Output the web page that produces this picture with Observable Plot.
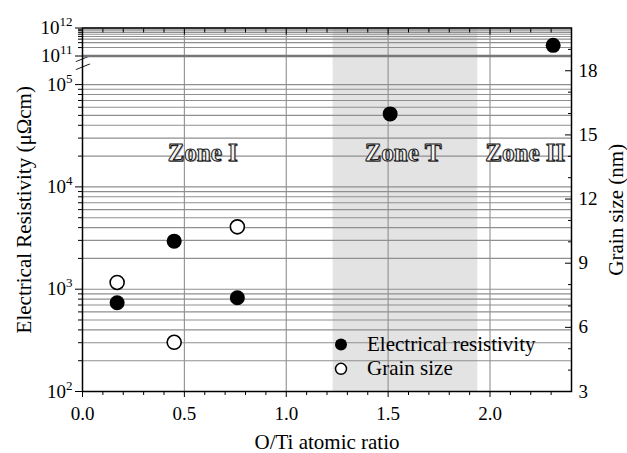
<!DOCTYPE html>
<html><head><meta charset="utf-8">
<script src="https://cdn.jsdelivr.net/npm/d3@7"></script>
<script src="https://cdn.jsdelivr.net/npm/@observablehq/plot@0.6"></script>
<style>
body{margin:0;background:#fff;}
#chart{position:relative;width:627px;height:453px;}
#chart svg{position:absolute;left:0;top:0;}
</style></head><body><div id="chart"></div>
<script>
// ---- data ----
const resX = [0.17, 0.45, 0.76, 1.51];
const resY = [736, 2950, 824, 51700];
const resTopX = [2.31];
const resTopY = [2.4e11];
const grainX = [0.17, 0.45, 0.76];
const grainY = [8.1, 5.3, 10.7];
const zoneT = [1.23, 1.94];
const zoneNames = ["Zone I", "Zone T", "Zone II"];
const zoneX = [0.59, 1.573, 2.173];
const zoneY = [2.15e4, 2.15e4, 2.15e4];
const legendLabels = ["Electrical resistivity", "Grain size"];
const xMajor = [0, 0.5, 1.0, 1.5, 2.0];
const xMinor = [0.1,0.2,0.3,0.4,0.6,0.7,0.8,0.9,1.1,1.2,1.3,1.4,1.6,1.7,1.8,1.9,2.1,2.2,2.3];
const xGrid = [0.5, 1.0, 1.5, 2.0];
const lowDecades = [1e2, 1e3, 1e4, 1e5];
const topDecades = [1e11, 1e12];
const grainMajor = [3, 6, 9, 12, 15, 18];
const grainMinor = [4,5,7,8,10,11,13,14,16,17,19];
const xLabel = "O/Ti atomic ratio";
const yLabel = "Electrical Resistivity (μΩcm)";
const y2Label = "Grain size (nm)";

// ---- derived ----
const lowTop = 1.84e5;
const mult = [1,2,3,4,5,6,7,8,9];
const lowGrid = lowDecades.flatMap(d => mult.map(m => m * d)).filter(v => v <= lowTop);
const lowMinor = lowGrid.filter(v => !lowDecades.includes(v));
const topGrid = mult.map(m => m * 1e11).concat([1e12]);
const topMinor = mult.slice(1).map(m => m * 1e11);
const resData = resX.map((x, i) => ({x, y: resY[i]}));
const resTop = resTopX.map((x, i) => ({x, y: resTopY[i]}));
const grain = grainX.map((x, i) => ({x, y: grainY[i]}));
const zones = zoneNames.map((t, i) => ({t, x: zoneX[i], y: zoneY[i]}));
const expFmt = d => "10^" + Math.round(Math.log10(d));

const W = 627, H = 453;
const font = "'Liberation Serif', 'Times New Roman', serif";
const common = {
  width: W, height: H, marginLeft: 82, marginRight: 56,
  x: {domain: [0, 2.4], axis: null},
  style: {fontFamily: font, fontSize: "19px", background: "transparent", color: "black", overflow: "visible"}
};
const gridStyle = {stroke: "#8f8f8f", strokeWidth: 1.1};

// bottom panel (10^2 .. ~2x10^5)
const plotB = Plot.plot({
  ...common, marginTop: 57, marginBottom: 62,
  y: {type: "log", domain: [100, lowTop], axis: null},
  marks: [
    Plot.rect([zoneT], {x1: d => d[0], x2: d => d[1], fill: "#e3e3e3"}),
    Plot.ruleY(lowGrid, gridStyle),
    Plot.ruleX(xGrid, gridStyle),
    Plot.axisY(lowMinor, {anchor: "left", tickSize: 4, fill: "none", label: null}),
    Plot.axisY(lowDecades, {anchor: "left", tickSize: 7, tickPadding: 3, tickFormat: expFmt, label: null}),
    Plot.text(zones, {x: "x", y: "y", text: "t", fontSize: 25, fontWeight: "bold", fill: "#999", dx: 1, dy: 1}),
    Plot.text(zones, {x: "x", y: "y", text: "t", fontSize: 25, fontWeight: "bold", fill: "#f4f4f4", stroke: "#111", strokeWidth: 1, paintOrder: "normal"}),
    Plot.dot(resData, {x: "x", y: "y", r: 7.5, fill: "black"}),
    Plot.text(["—"], {frameAnchor: "top-left", dx: 0, dy: 0, rotate: -22, fontSize: 15, fill: "black", textAnchor: "middle", lineAnchor: "middle"}),
    Plot.text(["—"], {frameAnchor: "top-left", dx: 0, dy: 8, rotate: -22, fontSize: 15, fill: "black", textAnchor: "middle", lineAnchor: "middle"})
  ]
});

// top panel (10^11 .. 10^12)
const plotT = Plot.plot({
  ...common, marginTop: 27.5, marginBottom: H - 55.5,
  y: {type: "log", domain: [1e11, 1e12], axis: null},
  marks: [
    Plot.rect([zoneT], {x1: d => d[0], x2: d => d[1], fill: "#e3e3e3"}),
    Plot.ruleY(topGrid, gridStyle),
    Plot.ruleX(xGrid, gridStyle),
    Plot.ruleY([1e11], {stroke: "#777", strokeWidth: 2.5}),
    Plot.axisY(topMinor, {anchor: "left", tickSize: 4, fill: "none", label: null}),
    Plot.axisY(topDecades, {anchor: "left", tickSize: 7, tickPadding: 3, tickFormat: expFmt, label: null}),
    Plot.dot(resTop, {x: "x", y: "y", r: 7.5, fill: "black"})
  ]
});

// overlay: grain size, frame, x axis, right axis, labels, legend
const lbl = {fill: "black", textAnchor: "middle", lineAnchor: "middle"};
const plotG = Plot.plot({
  ...common, marginTop: 27.5, marginBottom: 62,
  y: {domain: [3, 20], axis: null},
  marks: [
    Plot.dot(grain, {x: "x", y: "y", r: 7, fill: "white", stroke: "black", strokeWidth: 1.6}),
    Plot.frame({stroke: "black", strokeWidth: 1.5}),
    Plot.axisX(xMinor, {anchor: "bottom", tickSize: 4, fill: "none", label: null}),
    Plot.axisX(xMajor, {anchor: "bottom", tickSize: 6, tickPadding: 9, tickFormat: d3.format(".1f"), label: null}),
    Plot.axisX(xMinor, {anchor: "top", tickSize: -4, fill: "none", label: null}),
    Plot.axisX(xMajor, {anchor: "top", tickSize: -6, fill: "none", label: null}),
    Plot.axisY(grainMinor, {anchor: "right", tickSize: -4, fill: "none", label: null}),
    Plot.axisY(grainMajor, {anchor: "right", tickSize: -7, fill: "none", label: null}),
    Plot.axisY(grainMajor, {anchor: "right", tickSize: 0, tickPadding: 7, label: null}),
    Plot.text([yLabel], {...lbl, frameAnchor: "left", dx: -58, rotate: -90, fontSize: 21}),
    Plot.text([y2Label], {...lbl, frameAnchor: "right", dx: 44.5, rotate: -90, fontSize: 21}),
    Plot.text([xLabel], {...lbl, frameAnchor: "bottom", dy: 51, fontSize: 21}),
    Plot.dot([legendLabels[0]], {frameAnchor: "bottom-left", dx: 258.5, dy: -47, r: 6, fill: "black"}),
    Plot.dot([legendLabels[1]], {frameAnchor: "bottom-left", dx: 258.5, dy: -22.7, r: 5.5, fill: "white", stroke: "black", strokeWidth: 1.5}),
    Plot.text([legendLabels[0]], {frameAnchor: "bottom-left", dx: 284.5, dy: -47, textAnchor: "start", lineAnchor: "middle", fontSize: 21, fill: "black"}),
    Plot.text([legendLabels[1]], {frameAnchor: "bottom-left", dx: 284.5, dy: -23, textAnchor: "start", lineAnchor: "middle", fontSize: 21, fill: "black"})
  ]
});

const ns = "http://www.w3.org/2000/svg";
function supify(svg) {
  svg.querySelectorAll("text").forEach(t => {
    const m = t.textContent.match(/^10\^(\d+)$/);
    if (m) {
      t.textContent = "10";
      const ts = document.createElementNS(ns, "tspan");
      ts.setAttribute("dy", "-8");
      ts.setAttribute("font-size", "13");
      ts.textContent = m[1];
      t.appendChild(ts);
    }
  });
}
supify(plotB); supify(plotT);
const chart = document.getElementById("chart");
chart.append(plotB, plotT, plotG);
</script></body></html>
